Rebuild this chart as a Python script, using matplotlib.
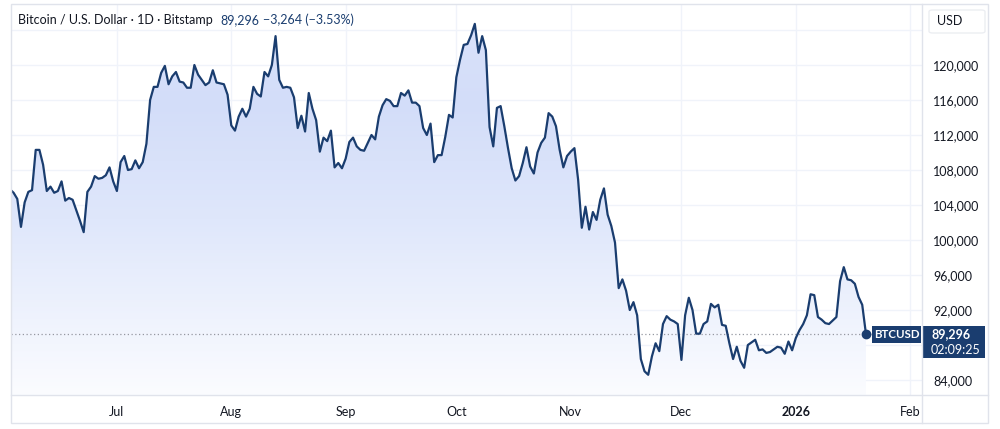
import datetime as dt

import matplotlib
matplotlib.use("Agg")
import matplotlib.pyplot as plt
import matplotlib.dates as mdates
import numpy as np
from matplotlib.colors import LinearSegmentedColormap
from matplotlib.patches import Rectangle, FancyBboxPatch

# daily closes, thousands of USD
start = dt.date(2025, 6, 2)
jun = [105.8, 105.4, 104.7, 101.5, 104.3, 105.5, 105.7, 110.3, 110.3, 108.6,
       105.6, 106.1, 105.4, 105.6, 106.7, 104.5, 104.8, 104.6, 103.4, 102.2,
       100.9, 105.5, 106.1, 107.3, 107.0, 107.1, 107.4, 108.3, 106.7]
jul = [105.6, 108.9, 109.6, 108.0, 108.1, 109.1, 108.2, 108.9, 111.0, 116.0,
       117.5, 117.5, 119.1, 119.9, 117.8, 118.7, 119.2, 118.1, 118.0, 117.4,
       117.4, 120.0, 118.9, 118.3, 117.7, 118.0, 119.4, 118.0, 117.9, 117.8,
       116.6]
aug = [113.1, 112.5, 114.1, 115.0, 114.1, 115.0, 117.5, 116.7, 116.4, 119.2,
       118.7, 120.0, 123.3, 118.3, 117.4, 117.5, 117.4, 116.3, 112.8, 114.2,
       112.4, 116.8, 115.0, 113.7, 110.1, 111.7, 111.3, 112.5, 108.3, 108.8,
       108.2]
sep = [109.3, 111.2, 111.7, 110.7, 110.3, 110.2, 111.1, 112.0, 111.5, 114.1,
       115.4, 116.1, 115.9, 115.3, 115.3, 116.8, 116.5, 117.1, 115.7, 115.7,
       115.3, 112.8, 112.0, 113.3, 108.9, 109.7, 109.7, 111.8, 114.3, 114.0]
oct_ = [118.6, 120.6, 122.3, 122.4, 123.4, 124.7, 121.4, 123.3, 121.7, 112.9,
        110.7, 115.1, 115.3, 113.0, 110.5, 108.2, 106.8, 107.3, 108.8, 110.6,
        108.4, 107.6, 110.0, 111.1, 111.7, 114.5, 114.1, 113.0, 110.3, 108.3,
        109.6]
nov = [110.1, 110.5, 106.9, 101.4, 103.8, 101.2, 103.2, 102.3, 104.6, 105.9,
       102.9, 101.6, 99.7, 94.5, 95.5, 94.2, 92.0, 92.9, 91.4, 86.4,
       85.0, 84.6, 86.7, 88.2, 87.3, 90.4, 91.3, 90.9, 90.7, 90.4]
dec = [86.3, 91.4, 93.4, 92.0, 89.3, 89.3, 90.4, 90.7, 92.7, 92.3,
       92.6, 90.3, 90.2, 88.2, 86.4, 87.8, 86.2, 85.4, 88.0, 88.3,
       88.6, 87.4, 87.5, 87.1, 87.2, 87.5, 87.8, 87.7, 87.0, 88.4,
       87.4]
jan = [88.8, 89.7, 90.4, 91.4, 93.8, 93.7, 91.2, 90.9, 90.5, 90.4,
       90.8, 91.2, 95.3, 96.9, 95.5, 95.4, 95.0, 93.5, 92.6, 89.296]

y_ticks = list(range(84000, 120001, 4000))
grid_levels = list(range(84000, 124001, 4000))
month_ticks = [dt.date(2025, m, 1) for m in range(7, 13)] + [dt.date(2026, 1, 1), dt.date(2026, 2, 1)]
month_labels = ["Jul", "Aug", "Sep", "Oct", "Nov", "Dec", "2026", "Feb"]

title = "Bitcoin / U.S. Dollar · 1D · Bitstamp"
last_txt = "89,296"
change_txt = "\u22123,264 (\u22123.53%)"
countdown = "02:09:25"

NAVY = "#1a3d6f"
TXT = "#131722"
GRID = "#f0f3fa"
FRAME = "#e0e3eb"

plt.rcParams["font.family"] = ["Lato", "DejaVu Sans"]

prices = np.array(jun + jul + aug + sep + oct_ + nov + dec + jan) * 1000
dates = [start + dt.timedelta(days=i) for i in range(len(prices))]
x = mdates.date2num(dates)

W, H = 1000, 429
fig = plt.figure(figsize=(W / 100, H / 100), dpi=100)
fig.patch.set_facecolor("white")


def fx(px):
    return px / W


def fy(py):
    return 1 - py / H


# plot pane: x 11..922, y 4..395 (pixels from top-left)
ax = fig.add_axes([fx(11), fy(395), fx(922 - 11), (395 - 4) / H])
ax.set_facecolor("white")

jul1 = mdates.date2num(dt.date(2025, 7, 1))
xlim = (jul1 - 28.7, jul1 + 218.2)
ylim = (82290, 126970)

# grid
for v in grid_levels:
    ax.axhline(v, color=GRID, lw=1, zorder=0)
for d in month_ticks:
    ax.axvline(mdates.date2num(d), color=GRID, lw=1, zorder=0)

# gradient area under the line
cmap = LinearSegmentedColormap.from_list(
    "area", [(0.0, "#fbfcff"), (0.45, "#dfe7fb"), (0.75, "#d3ddf9"), (1.0, "#dce4fb")])
grad = np.linspace(0, 1, 256).reshape(-1, 1)
img = ax.imshow(grad, cmap=cmap, aspect="auto", origin="lower",
                extent=[x[0], x[-1], ylim[0], ylim[1]], zorder=1)
poly = ax.fill_between(x, prices, ylim[0], color="none", lw=0)
img.set_clip_path(poly.get_paths()[0], transform=ax.transData)
ax.set_xlim(*xlim)
ax.set_ylim(*ylim)

ax.plot(x, prices, color=NAVY, lw=1.6, zorder=3, solid_joinstyle="round")
ax.plot(x[-1], prices[-1], "o", color=NAVY, ms=6, zorder=4)
ax.axhline(prices[-1], color="#9598a1", lw=0.9, ls=(0, (1, 2)), zorder=2)

# axes cosmetics
for s in ax.spines.values():
    s.set_visible(False)
ax.yaxis.tick_right()
ax.set_yticks(y_ticks)
ax.set_yticklabels(["" if v == 88000 else f"{v:,}" for v in y_ticks])
ax.tick_params(axis="y", length=0, pad=8, labelsize=9, labelcolor=TXT)
ax.set_xticks([mdates.date2num(d) for d in month_ticks])
ax.set_xticklabels(month_labels)
ax.tick_params(axis="x", length=0, pad=8, labelsize=9, labelcolor=TXT)
for lab in ax.get_xticklabels():
    if lab.get_text() == "2026":
        lab.set_fontweight("bold")

# frame around the whole widget
fig.add_artist(Rectangle((fx(11), fy(423)), fx(988 - 11), (423 - 4) / H,
                         transform=fig.transFigure, fill=False, ec=FRAME, lw=1))
fig.add_artist(plt.Line2D([fx(922), fx(922)], [fy(4), fy(423)],
                          transform=fig.transFigure, color=FRAME, lw=1))
fig.add_artist(plt.Line2D([fx(11), fx(988)], [fy(395), fy(395)],
                          transform=fig.transFigure, color=FRAME, lw=1))

# legend line
fig.text(fx(18), fy(20), title, fontsize=9, color=TXT, va="center")
fig.text(fx(220), fy(20), last_txt, fontsize=9, color=NAVY, va="center")
fig.text(fx(263), fy(20), change_txt, fontsize=9, color=NAVY, va="center")

# currency box
fig.add_artist(FancyBboxPatch((fx(929), fy(33)), fx(56), 23 / H,
                              boxstyle="round,pad=0,rounding_size=0.004",
                              transform=fig.transFigure, fc="white", ec="#eceef2", lw=1))
fig.text(fx(937), fy(21), "USD", fontsize=9, color=TXT, va="center")

# last price labels
fig.add_artist(Rectangle((fx(872), fy(343)), fx(49), 17 / H,
                         transform=fig.transFigure, fc=NAVY, ec="none"))
fig.text(fx(896.5), fy(334.5), "BTCUSD", fontsize=8.3, color="white",
         weight="bold", ha="center", va="center")
fig.add_artist(Rectangle((fx(923), fy(358)), fx(62), 32 / H,
                         transform=fig.transFigure, fc=NAVY, ec="none"))
fig.text(fx(931), fy(334.5), last_txt, fontsize=9, color="white",
         weight="bold", va="center")
fig.text(fx(931), fy(349.5), countdown, fontsize=9, color="white", va="center")

fig.savefig("out.png", dpi=100)
